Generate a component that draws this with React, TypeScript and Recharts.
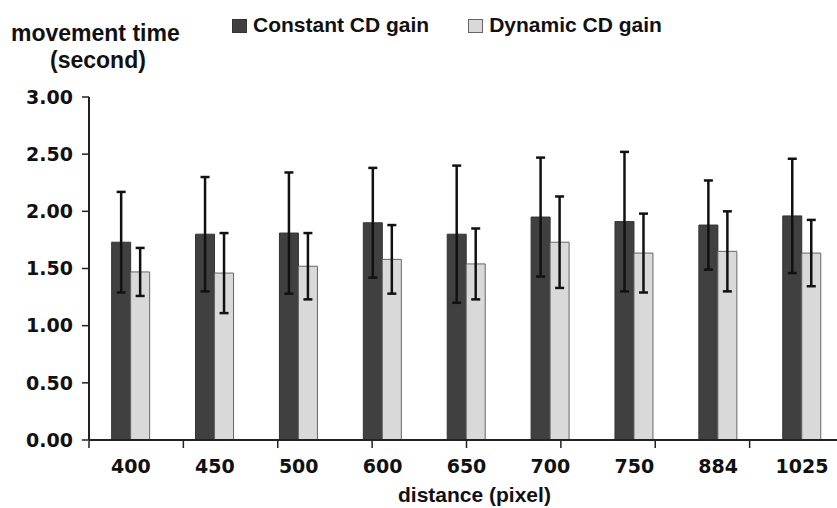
import React from 'react';
import { BarChart, Bar, XAxis, YAxis, ErrorBar } from 'recharts';

const categories = ['400', '450', '500', '600', '650', '700', '750', '884', '1025'];
const constantMeans = [1.73, 1.8, 1.81, 1.9, 1.8, 1.95, 1.91, 1.88, 1.96];
const constantErr = [0.44, 0.5, 0.53, 0.48, 0.6, 0.52, 0.61, 0.39, 0.5];
const dynamicMeans = [1.47, 1.46, 1.52, 1.58, 1.54, 1.73, 1.635, 1.65, 1.635];
const dynamicErr = [0.21, 0.35, 0.29, 0.3, 0.31, 0.4, 0.345, 0.35, 0.29];
const yTicks = [0, 0.5, 1, 1.5, 2, 2.5, 3];
const seriesNames = ['Constant CD gain', 'Dynamic CD gain'];
const boundaryTicks = [0, 1, 2, 3, 4, 5, 6, 7, 8, 9];

const data = categories.map((c, i) => ({
  name: c,
  constant: constantMeans[i],
  constantErr: constantErr[i],
  dynamic: dynamicMeans[i],
  dynamicErr: dynamicErr[i],
}));

const tickFont = { fontFamily: 'DejaVu Sans', fontWeight: 'bold', fontSize: 19, fill: '#111' };
const titleFont: React.CSSProperties = {
  fontFamily: '"Liberation Sans", Arial, sans-serif',
  fontWeight: 'bold',
  color: '#111',
  position: 'absolute',
  whiteSpace: 'nowrap',
  lineHeight: 1,
};

const colors = ['#404040', '#d9d9d9'];
const borders = ['#333', '#666'];

const LegendBox = () => (
  <div style={{ position: 'absolute', left: 232, top: 12, display: 'flex', alignItems: 'center', height: 24 }}>
    {seriesNames.map((n, i) => (
      <div key={n} style={{ display: 'flex', alignItems: 'center', marginRight: i === 0 ? 39 : 0 }}>
        <span
          style={{
            display: 'inline-block',
            width: 13,
            height: 12,
            background: colors[i],
            border: `1px solid ${borders[i]}`,
            marginRight: 6,
            marginTop: 3,
          }}
        />
        <span style={{ ...titleFont, position: 'static', fontSize: 21 }}>{n}</span>
      </div>
    ))}
  </div>
);

export default function App() {
  return (
    <div style={{ position: 'absolute', left: 0, top: 0, width: 837, height: 508, overflow: 'hidden', background: '#fff' }}>
      <div style={{ ...titleFont, fontSize: 23, left: 11, top: 21.5 }}>movement time</div>
      <div style={{ ...titleFont, fontSize: 23, left: 50, top: 48.5 }}>(second)</div>
      <div style={{ ...titleFont, fontSize: 21, left: 398, top: 484 }}>distance (pixel)</div>
      <LegendBox />
      <BarChart
        width={860}
        height={508}
        data={data}
        margin={{ top: 97, right: 16, bottom: 66, left: 0 }}
        barCategoryGap="27%"
        barGap={0}
      >
        <XAxis
          xAxisId="b"
          type="number"
          domain={[0, 9]}
          ticks={boundaryTicks}
          tickFormatter={() => ''}
          axisLine={false}
          tickLine={{ stroke: '#222', strokeWidth: 1.5 }}
          tickSize={7}
          height={1}
        />
        <XAxis
          dataKey="name"
          height={1}
          tickLine={false}
          tickSize={0}
          tickMargin={20}
          tick={tickFont}
          axisLine={{ stroke: '#222', strokeWidth: 2 }}
          interval={0}
        />
        <YAxis
          width={89}
          domain={[0, 3]}
          ticks={yTicks}
          tickFormatter={(v: number) => v.toFixed(2)}
          tick={tickFont}
          tickSize={7}
          tickMargin={9}
          axisLine={{ stroke: '#222', strokeWidth: 2 }}
          tickLine={{ stroke: '#222', strokeWidth: 1.5 }}
          interval={0}
        />
        <Bar dataKey="constant" name={seriesNames[0]} fill={colors[0]} stroke={borders[0]} strokeWidth={1} isAnimationActive={false}>
          <ErrorBar dataKey="constantErr" width={4.5} stroke="#111" strokeWidth={2.5} isAnimationActive={false} />
        </Bar>
        <Bar dataKey="dynamic" name={seriesNames[1]} fill={colors[1]} stroke={borders[1]} strokeWidth={1} isAnimationActive={false}>
          <ErrorBar dataKey="dynamicErr" width={4.5} stroke="#111" strokeWidth={2.5} isAnimationActive={false} />
        </Bar>
      </BarChart>
    </div>
  );
}
